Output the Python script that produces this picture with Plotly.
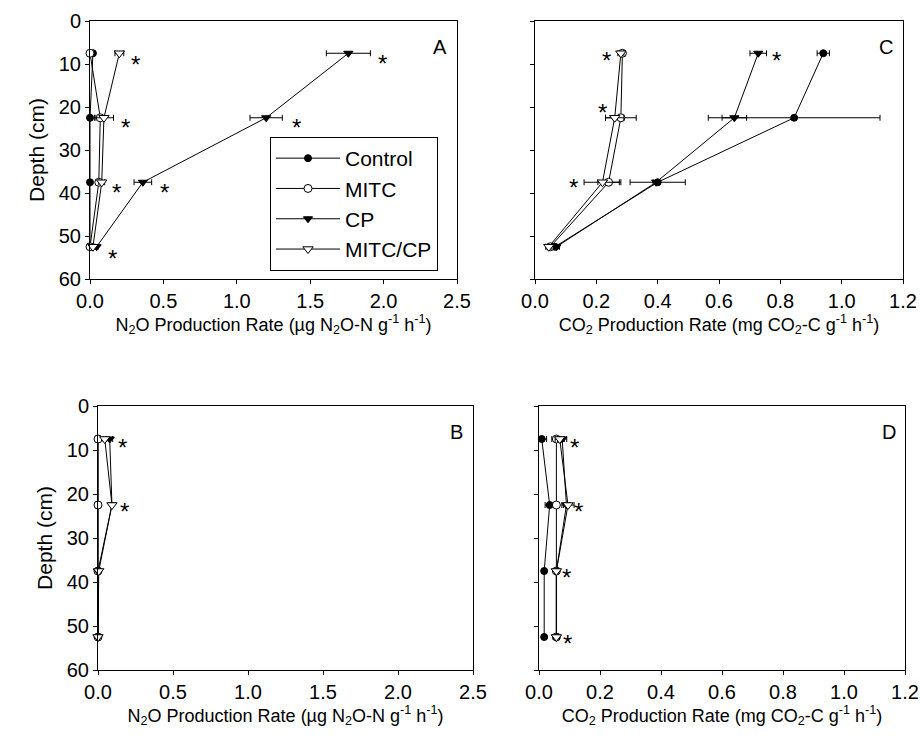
import plotly.graph_objects as go

depths = [7.5, 22.5, 37.5, 52.5]
series_names = ["Control", "MITC", "CP", "MITC/CP"]

# Panel A: N2O, top
A_control = [0.02, 0.0, 0.0, 0.0]
A_control_err = [0.01, 0.01, 0.005, 0.005]
A_mitc = [0.0, 0.07, 0.06, 0.0]
A_mitc_err = [0.01, 0.03, 0.02, 0.01]
A_cp = [1.76, 1.20, 0.36, 0.045]
A_cp_err = [0.15, 0.11, 0.06, 0.01]
A_mitccp = [0.20, 0.095, 0.08, 0.02]
A_mitccp_err = [0.03, 0.065, 0.02, 0.01]
A_star_x = [0.31, 1.99, 0.24, 1.41, 0.18, 0.51, 0.15]
A_star_y = [8.7, 8.6, 23.4, 23.4, 38.4, 38.4, 53.9]

# Panel C: CO2, top
C_control = [0.94, 0.845, 0.40, 0.065]
C_control_err = [0.02, 0.28, 0.09, 0.01]
C_mitc = [0.285, 0.28, 0.24, 0.05]
C_mitc_err = [0.01, 0.05, 0.035, 0.01]
C_cp = [0.728, 0.65, 0.395, 0.07]
C_cp_err = [0.027, 0.04, 0.01, 0.01]
C_mitccp = [0.28, 0.26, 0.22, 0.045]
C_mitccp_err = [0.01, 0.03, 0.06, 0.01]
C_star_x = [0.234, 0.788, 0.22, 0.127]
C_star_y = [7.7, 7.7, 19.9, 37.4]

# Panel B: N2O, bottom
B_control = [0.0, 0.0, 0.0, 0.0]
B_control_err = [0.0, 0.0, 0.0, 0.0]
B_mitc = [0.0, 0.0, 0.0, 0.0]
B_mitc_err = [0.0, 0.0, 0.0, 0.0]
B_cp = [0.078, 0.093, 0.0, 0.0]
B_cp_err = [0.02, 0.01, 0.0, 0.0]
B_mitccp = [0.045, 0.093, 0.005, 0.0]
B_mitccp_err = [0.01, 0.01, 0.0, 0.0]
B_star_x = [0.163, 0.178]
B_star_y = [8.1, 22.5]

# Panel D: CO2, bottom
D_control = [0.009, 0.035, 0.017, 0.017]
D_control_err = [0.016, 0.015, 0.005, 0.005]
D_mitc = [0.057, 0.057, 0.057, 0.057]
D_mitc_err = [0.015, 0.01, 0.005, 0.005]
D_cp = [0.076, 0.09, 0.057, 0.057]
D_cp_err = [0.015, 0.01, 0.005, 0.005]
D_mitccp = [0.068, 0.095, 0.057, 0.057]
D_mitccp_err = [0.015, 0.02, 0.005, 0.01]
D_star_x = [0.118, 0.131, 0.089, 0.095]
D_star_y = [8.0, 22.5, 37.5, 52.5]

panel_labels = ["A", "C", "B", "D"]
y_ticks = [0, 10, 20, 30, 40, 50, 60]
n2o_ticks = [0.0, 0.5, 1.0, 1.5, 2.0, 2.5]
co2_ticks = [0.0, 0.2, 0.4, 0.6, 0.8, 1.0, 1.2]

FONT = "Arial, Liberation Sans, sans-serif"
W, H = 920, 748
ML, MR, MT, MB = 90, 15, 21, 78
PW, PH = W - ML - MR, H - MT - MB


def dx(a, b):
    return [(a - ML) / PW, min(1.0, (b - ML) / PW)]


def dy(top, bot):
    return [max(0.0, 1 - (bot - MT) / PH), 1 - (top - MT) / PH]


styles = {
    "Control": dict(symbol="circle", size=7, color="black", line=dict(color="black", width=1)),
    "MITC": dict(symbol="circle", size=8, color="white", line=dict(color="black", width=1)),
    "CP": dict(symbol="triangle-down", size=8, color="black", line=dict(color="black", width=1)),
    "MITC/CP": dict(symbol="triangle-down", size=9, color="white", line=dict(color="black", width=1)),
}

fig = go.Figure()

panels = [
    ("x", "y", [A_control, A_mitc, A_cp, A_mitccp],
     [A_control_err, A_mitc_err, A_cp_err, A_mitccp_err], A_star_x, A_star_y, True),
    ("x2", "y2", [C_control, C_mitc, C_cp, C_mitccp],
     [C_control_err, C_mitc_err, C_cp_err, C_mitccp_err], C_star_x, C_star_y, False),
    ("x3", "y3", [B_control, B_mitc, B_cp, B_mitccp],
     [B_control_err, B_mitc_err, B_cp_err, B_mitccp_err], B_star_x, B_star_y, False),
    ("x4", "y4", [D_control, D_mitc, D_cp, D_mitccp],
     [D_control_err, D_mitc_err, D_cp_err, D_mitccp_err], D_star_x, D_star_y, False),
]

annotations = []
for (xa, ya, vals, errs, sx, sy, show), lab in zip(panels, panel_labels):
    for name, v, e in zip(series_names, vals, errs):
        fig.add_trace(go.Scatter(
            x=v, y=depths, mode="lines+markers", name=name,
            xaxis=xa, yaxis=ya, showlegend=show,
            line=dict(color="black", width=1),
            marker=styles[name],
            error_x=dict(type="data", array=e, visible=True, color="black",
                         thickness=1, width=3),
            cliponaxis=False,
        ))
    for x, y in zip(sx, sy):
        annotations.append(dict(x=x, y=y, xref=xa, yref=ya, text="*", showarrow=False,
                                font=dict(family=FONT, size=24, color="black"),
                                xanchor="center", yanchor="middle", yshift=-6))
    annotations.append(dict(x=0.955, y=0.9, xref=xa + " domain", yref=ya + " domain",
                            text=lab, showarrow=False,
                            font=dict(family=FONT, size=20, color="black"),
                            xanchor="center", yanchor="middle"))

n2o_title = "N<sub>2</sub>O Production Rate (µg N<sub>2</sub>O-N g<sup>-1</sup> h<sup>-1</sup>)"
co2_title = "CO<sub>2</sub> Production Rate (mg CO<sub>2</sub>-C g<sup>-1</sup> h<sup>-1</sup>)"


def xaxis(dom, rng, ticks, title, anchor):
    return dict(domain=dom, range=rng, anchor=anchor, tickvals=ticks,
                ticktext=[f"{t:.1f}" for t in ticks], ticks="outside", ticklen=4,
                tickcolor="black", showline=True, linecolor="black", linewidth=1,
                mirror=True, showgrid=False, zeroline=False, automargin=False,
                tickfont=dict(family=FONT, size=20, color="black"),
                title=dict(text=title, font=dict(family=FONT, size=18, color="black"),
                           standoff=4))


def yaxis(dom, anchor, show_title):
    return dict(domain=dom, range=[60, 0], anchor=anchor, tickvals=y_ticks,
                ticks="outside", ticklen=4, tickcolor="black", showline=True,
                linecolor="black", linewidth=1, mirror=True, showgrid=False,
                zeroline=False, automargin=False,
                tickfont=dict(family=FONT, size=20, color="black"),
                showticklabels=show_title,
                title=dict(text="Depth (cm)" if show_title else "",
                           font=dict(family=FONT, size=21, color="black"), standoff=8))


fig.update_layout(
    width=W, height=H, margin=dict(l=ML, r=MR, t=MT, b=MB, autoexpand=False),
    paper_bgcolor="white", plot_bgcolor="white",
    font=dict(family=FONT, color="black"),
    xaxis=xaxis(dx(90, 457), [0, 2.5], n2o_ticks, n2o_title, "y"),
    yaxis=yaxis(dy(21, 279), "x", True),
    xaxis2=xaxis(dx(535, 903), [0, 1.2], co2_ticks, co2_title, "y2"),
    yaxis2=yaxis(dy(21, 279), "x2", False),
    xaxis3=xaxis(dx(98, 473), [0, 2.5], n2o_ticks, n2o_title, "y3"),
    yaxis3=yaxis(dy(406, 670), "x3", True),
    xaxis4=xaxis(dx(539, 905), [0, 1.2], co2_ticks, co2_title, "y4"),
    yaxis4=yaxis(dy(406, 670), "x4", False),
    legend=dict(x=(270 - ML) / PW, y=1 - (137 - MT) / PH, xanchor="left", yanchor="top",
                bordercolor="black", borderwidth=1, bgcolor="white",
                font=dict(family=FONT, size=21, color="black"),
                itemwidth=64, tracegroupgap=0),
    annotations=annotations,
    showlegend=True,
)

fig.write_html(
    "out.html",
    config={"displayModeBar": False},
    post_script="document.body.style.margin='0px';document.body.style.overflow='hidden';",
)
